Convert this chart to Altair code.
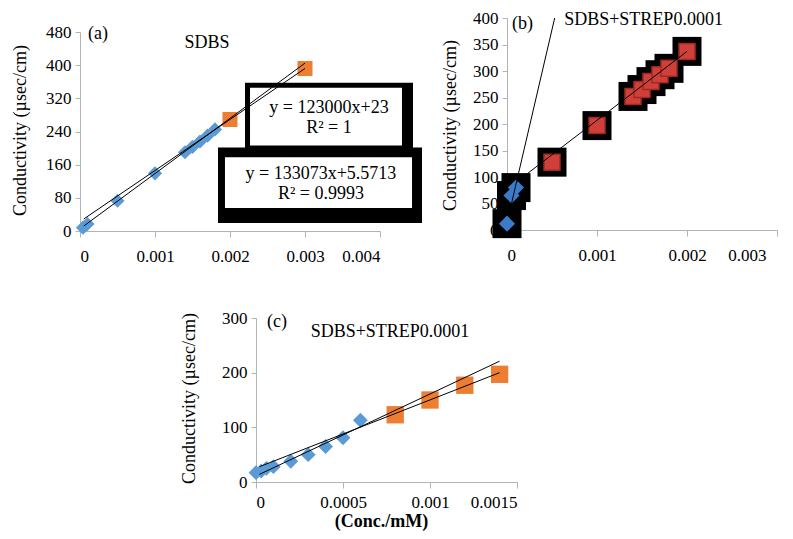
import altair as alt
import pandas as pd

# ---------------- data ----------------
# Panel (a)  SDBS
a_pre_x = [0.00004, 0.0001, 0.0005, 0.001, 0.0014, 0.0015, 0.0016, 0.0017, 0.0018]
a_pre_y = [8, 17, 73, 139, 190, 203, 216, 230, 245]
a_post_x = [0.002, 0.003]
a_post_y = [269, 392]
a_fit1_x = [0.00005, 0.003]
a_fit1_y = [29, 392]
a_fit2_x = [0.00005, 0.003]
a_fit2_y = [12, 405]
a_x_ticks = [0, 0.001, 0.002, 0.003, 0.004]
a_y_ticks = [0, 80, 160, 240, 320, 400, 480]
a_eq1 = ["y = 123000x+23", "R² = 1"]
a_eq2 = ["y = 133073x+5.5713", "R² = 0.9993"]

# Panel (b)  SDBS+STREP0.0001
b_pre_x = [0.0, 0.00005, 0.0001]
b_pre_y = [12, 65, 80]
b_post_x = [0.0005, 0.001, 0.0014, 0.0015, 0.0016, 0.0017, 0.0018, 0.002]
b_post_y = [128, 197, 252, 265, 280, 293, 305, 337]
b_fit1_x = [0.00005, 0.00053]
b_fit1_y = [50, 400]
b_fit2_x = [0.0001, 0.002]
b_fit2_y = [90, 337]
b_x_ticks = [0, 0.001, 0.002, 0.003]
b_y_ticks = [0, 50, 100, 150, 200, 250, 300, 350, 400]

# Panel (c)  SDBS+STREP0.0001
c_pre_x = [0.0, 0.00003, 0.00006, 0.0001, 0.0002, 0.0003, 0.0004, 0.0005, 0.0006]
c_pre_y = [17, 20, 25, 28, 38, 50, 65, 81, 113]
c_post_x = [0.0008, 0.001, 0.0012, 0.0014]
c_post_y = [123, 150, 177, 197]
c_fit1_x = [0.00002, 0.0014]
c_fit1_y = [28, 200]
c_fit2_x = [0.00002, 0.0014]
c_fit2_y = [14, 221]
c_x_ticks = [0, 0.0005, 0.001, 0.0015]
c_y_ticks = [0, 100, 200, 300]

TITLE_A = "SDBS"
TITLE_BC = "SDBS+STREP0.0001"
Y_TITLE = "Conductivity (µsec/cm)"
X_TITLE = "(Conc./mM)"

# ---------------- styling ----------------
FONT = "Liberation Serif"
AXC = "#b3b3b3"
BLUE = "#5b9bd5"
ORANGE = "#ed7d31"
H = 523
W = 777
LABEL_EXPR = "format(datum.value, '~g')"


def sc(dom, rng):
    return alt.Scale(domain=dom, range=rng, nice=False, zero=False)


def pts(x, y):
    return pd.DataFrame({"x": x, "y": y})


def lines(*pairs):
    rows = []
    for i, (xs, ys) in enumerate(pairs):
        for xv, yv in zip(xs, ys):
            rows.append({"id": i, "x": xv, "y": yv})
    return pd.DataFrame(rows)


def xaxis(vals, off, pad=11, **kw):
    return alt.Axis(values=vals, labelExpr=LABEL_EXPR, orient="bottom", offset=off,
                    grid=False, tickSize=6, labelPadding=pad, **kw)


def yaxis(vals, off, tx, ty):
    return alt.Axis(values=vals, labelExpr=LABEL_EXPR, orient="left", offset=off,
                    grid=False, tickSize=5, labelPadding=4,
                    title=Y_TITLE, titleAngle=270, titleX=tx, titleY=ty,
                    titleBaseline="middle", titleAlign="center")


def XY(xs, ys, xa=None, ya=None):
    return dict(x=alt.X("x:Q", scale=xs, axis=xa, title=None),
                y=alt.Y("y:Q", scale=ys, axis=ya, title=None))


def panel_layers(xs, ys, xa, ya, pre, post, fits, texts, pre_style, post_style,
                 halo=None, boxes=None):
    layers = []
    if boxes is not None:
        layers.append(alt.Chart(boxes).mark_rect(opacity=1).encode(
            x2="x2:Q", y2="y2:Q", color=alt.Color("c:N", scale=None), **XY(xs, ys)))
    if halo is not None:
        layers.append(alt.Chart(pd.concat([pre, post])).mark_square(size=halo, color="black", opacity=1)
                      .encode(**XY(xs, ys)))
    layers.append(alt.Chart(pre).mark_point(**pre_style).encode(**XY(xs, ys, xa, ya)))
    layers.append(alt.Chart(post).mark_square(**post_style).encode(**XY(xs, ys)))
    layers.append(alt.Chart(fits).mark_line(color="black", strokeWidth=1)
                  .encode(detail="id:N", **XY(xs, ys)))
    for df, style in texts:
        layers.append(alt.Chart(df).mark_text(font=FONT, color="black", **style)
                      .encode(text="t:N", **XY(xs, ys)))
    return layers


# ---------- panel (a) ----------
axs = sc([0, 0.004], [72, 372])
ays = sc([0, 480], [223, 24])
a_boxes = pd.DataFrame({
    "x": [0.0022, 0.002267, 0.00184, 0.001933],
    "x2": [0.00444, 0.004293, 0.00456, 0.004427],
    "y": [357.6, 345.6, 201.6, 177.6],
    "y2": [177.6, 206.4, 19.2, 55.2],
    "c": ["black", "white", "black", "white"],
})
a_eq_df = pd.DataFrame({"x": [0.00332, 0.00332, 0.003213, 0.003213],
                        "y": [297.6, 249.6, 136.8, 88.8],
                        "t": a_eq1 + a_eq2})
a_lab_df = pd.DataFrame({"x": [0.000107], "y": [475], "t": ["(a)"]})
a_tit_df = pd.DataFrame({"x": [0.001693], "y": [453.6], "t": [TITLE_A]})

layers_a = panel_layers(
    axs, ays,
    xaxis(a_x_ticks, 223 - H),
    yaxis(a_y_ticks, -72, -60, 122),
    pts(a_pre_x, a_pre_y), pts(a_post_x, a_post_y),
    lines((a_fit1_x, a_fit1_y), (a_fit2_x, a_fit2_y)),
    [(a_eq_df, dict(fontSize=18, align="center", baseline="middle")),
     (a_lab_df, dict(fontSize=18, align="left", baseline="middle")),
     (a_tit_df, dict(fontSize=18, align="center", baseline="middle"))],
    dict(shape="diamond", filled=True, size=200, color=BLUE, opacity=1),
    dict(size=225, color=ORANGE, opacity=1),
    boxes=a_boxes,
)

# ---------- panel (b) ----------
bxs = sc([0, 0.003], [499, 769])
bys = sc([0, 400], [222, 10])
b_lab_df = pd.DataFrame({"x": [0.000055], "y": [388], "t": ["(b)"]})
b_tit_df = pd.DataFrame({"x": [0.001517], "y": [396], "t": [TITLE_BC]})
layers_b = panel_layers(
    bxs, bys,
    xaxis(b_x_ticks, 222 - H,
          labelOffset={"condition": {"test": "datum.value > 0.0029", "value": -11}, "value": 0}),
    yaxis(b_y_ticks, -499, -57, 117),
    pts(b_pre_x, b_pre_y), pts(b_post_x, b_post_y),
    lines((b_fit1_x, b_fit1_y), (b_fit2_x, b_fit2_y)),
    [(b_lab_df, dict(fontSize=18, align="left", baseline="middle")),
     (b_tit_df, dict(fontSize=18, align="center", baseline="middle"))],
    dict(shape="diamond", filled=True, size=260, color="#3b7bc8", opacity=1),
    dict(size=256, fill="#d0403a", stroke="#9e2a22", strokeWidth=1.5, opacity=1),
    halo=841,
)

# ---------- panel (c) ----------
cxs = sc([0, 0.0015], [248, 509])
cys = sc([0, 300], [474, 310])
c_lab_df = pd.DataFrame({"x": [0.0000632], "y": [292.7], "t": ["(c)"]})
c_tit_df = pd.DataFrame({"x": [0.00077], "y": [274], "t": [TITLE_BC]})
layers_c = panel_layers(
    cxs, cys,
    xaxis(c_x_ticks, 474 - H, pad=6, title=X_TITLE, titleFontWeight="bold", titleX=373,
          titleY=39, titleBaseline="middle", titleAlign="center"),
    yaxis(c_y_ticks, -248, -67, 390),
    pts(c_pre_x, c_pre_y), pts(c_post_x, c_post_y),
    lines((c_fit1_x, c_fit1_y), (c_fit2_x, c_fit2_y)),
    [(c_lab_df, dict(fontSize=18, align="left", baseline="middle")),
     (c_tit_df, dict(fontSize=18, align="center", baseline="middle"))],
    dict(shape="diamond", filled=True, size=220, color=BLUE, opacity=1),
    dict(size=300, color=ORANGE, opacity=1),
)

chart = (
    alt.layer(*(layers_a + layers_b + layers_c))
    .resolve_scale(x="independent", y="independent")
    .resolve_axis(x="independent", y="independent")
    .properties(width=W, height=H, autosize=alt.AutoSizeParams(type="none"), padding=0)
    .configure_axis(labelFont=FONT, titleFont=FONT, labelFontSize=17, titleFontSize=18,
                    labelColor="black", titleColor="black", titleFontWeight="normal",
                    domainColor=AXC, tickColor=AXC, domainWidth=1, tickWidth=1)
    .configure_view(stroke=None)
)

chart.save("out.html", embed_options={"renderer": "svg", "actions": False})
